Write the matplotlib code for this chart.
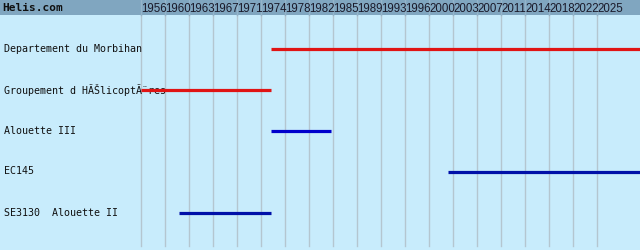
import matplotlib
matplotlib.use('Agg')
import matplotlib.pyplot as plt
import matplotlib.transforms as mtransforms
from matplotlib.patches import Rectangle
import numpy as np

# ---- data ----
tick_years = [1956, 1960, 1963, 1967, 1971, 1974, 1978, 1982, 1985, 1989,
              1993, 1996, 2000, 2003, 2007, 2011, 2014, 2018, 2022, 2025]
row_labels = ["Departement du Morbihan",
              "Groupement d H\u00c3\u0160licopt\u00c3\u00a8res",
              "Alouette III",
              "EC145",
              "SE3130  Alouette II"]
start_years = [1975.7, 1956.0, 1975.7, 2002.5, 1961.7]
end_years = [2031.5, 1975.7, 1984.7, 2031.5, 1975.7]
line_colors = ['#e01414', '#e01414', '#0000cc', '#0010a8', '#0010a8']

# ---- layout ----
W, H = 640, 250
fig = plt.figure(figsize=(W / 100, H / 100), dpi=100)
bg = '#c8ecfc'
header_color = '#80a6c0'
grid_color = '#b4c6d0'
fig.patch.set_facecolor(bg)

ax = fig.add_axes([0, 0, 1, 1])
ax.set_facecolor(bg)
for s in ax.spines.values():
    s.set_visible(False)
ax.set_xticks([])
ax.set_yticks([])

span = (tick_years[-1] - tick_years[0]) / (len(tick_years) - 1)  # years per grid step
ppy = 24.0 / span  # pixels per year
x0 = tick_years[0] - 141 / ppy
ax.set_xlim(x0, x0 + W / ppy)
row_px0, row_step = 48.5, 41.0
ax.set_ylim((H - row_px0) / row_step, -row_px0 / row_step)

# header band
header_h = 15
ax.add_patch(Rectangle((0, 1 - header_h / H), 1, header_h / H,
                       transform=ax.transAxes, facecolor=header_color,
                       edgecolor='none', zorder=0.5))

grid_pos = np.linspace(tick_years[0], tick_years[-1], len(tick_years))
bt = mtransforms.blended_transform_factory(ax.transData, ax.transAxes)
for gx, yr in zip(grid_pos, tick_years):
    ax.plot([gx, gx], [0.015, 1 - header_h / H], transform=bt, color=grid_color,
            lw=1.0, zorder=1)
    ax.plot([gx, gx], [1 - header_h / H, 1], transform=bt, color='#94b4ca',
            lw=1.0, zorder=1)
    ax.text(gx + 0.05, 1 - 8.5 / H, str(yr), transform=bt, ha='left', va='center',
            fontsize=8.3, color='#1a1a2a',
            family=['Liberation Sans'], zorder=5)

ax.text(2 / W, 1 - 8 / H, "Helis.com", transform=ax.transAxes, ha='left',
        va='center', fontsize=8, fontweight='bold', family='DejaVu Sans Mono',
        color='#101010', zorder=5)

lt = mtransforms.blended_transform_factory(ax.transAxes, ax.transData)
for i, lab in enumerate(row_labels):
    ax.text(4 / W, i, lab, transform=lt, ha='left', va='center', fontsize=7.2,
            family=['DejaVu Sans Mono'], color='#101010', zorder=3)

ax.hlines(range(len(row_labels)), start_years, end_years, colors=line_colors,
          lw=2.3, zorder=4, capstyle='butt')

fig.savefig('out.png', dpi=100, facecolor=bg)
